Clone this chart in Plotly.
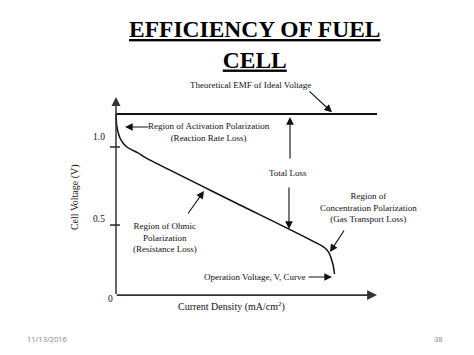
import plotly.graph_objects as go

# ---- data (arbitrary current-density units 0..100, cell voltage in V) ----
current_density = [0, 0.27, 0.88, 1.53, 2.68, 4.21, 6.13, 8.43, 11.11, 45.0,
                   79.31, 80.84, 81.99, 82.76, 83.33, 83.72]
cell_voltage = [1.212, 1.141, 1.090, 1.058, 1.026, 1.000, 0.981, 0.962, 0.933, 0.649,
                0.362, 0.340, 0.308, 0.269, 0.231, 0.186]
emf_x = [0, 100]
emf_v = [1.212, 1.212]
tick_values = [1.0, 0.5]
tick_labels = ["1.0", "0.5", "0"]
axis_origin = (0, 0.051)
x_axis_end = 100
y_axis_end = 1.32

SERIF = "Liberation Serif, Times New Roman, serif"
BLACK = "#111111"

fig = go.Figure()

# operating voltage curve
fig.add_trace(go.Scatter(x=current_density, y=cell_voltage, mode="lines",
                         line=dict(color=BLACK, width=1.5, shape="spline", smoothing=0.6),
                         hoverinfo="skip", showlegend=False))
# theoretical EMF line
fig.add_trace(go.Scatter(x=emf_x, y=emf_v, mode="lines",
                         line=dict(color=BLACK, width=2),
                         hoverinfo="skip", showlegend=False))

# ticks on y axis
for tv in tick_values:
    fig.add_shape(type="line", x0=-2.3, x1=1.5, y0=tv, y1=tv,
                  line=dict(color="#222222", width=1.5))

annotations = []

def arrow(x_tip, y_tip, x_tail, y_tail, width=1.1, size=1.4, color=BLACK):
    annotations.append(dict(x=x_tip, y=y_tip, ax=x_tail, ay=y_tail,
                            xref="x", yref="y", axref="x", ayref="y",
                            text="", showarrow=True, arrowhead=2,
                            arrowsize=size, arrowwidth=width,
                            arrowcolor=color, standoff=0, startstandoff=0))

def label(x, y, text, size=9, **kw):
    d = dict(x=x, y=y, xref="x", yref="y", text=text, showarrow=False,
             xanchor="center", yanchor="middle",
             font=dict(family=SERIF, size=size, color=BLACK), align="center")
    d.update(kw)
    annotations.append(d)

# axes with arrowheads
arrow(x_axis_end, axis_origin[1], axis_origin[0] - 0.3, axis_origin[1], width=1.8, size=1.1, color="#333333")
arrow(axis_origin[0], y_axis_end, axis_origin[0], axis_origin[1] - 0.003, width=1.5, size=1.2, color="#333333")

# tick labels
label(-6.51, 1.064, tick_labels[0], size=9.5)
label(-6.51, 0.538, tick_labels[1], size=9.5)
label(-1.92, 0.026, tick_labels[2], size=9.5)

# axis titles
label(-15.7, 0.679, "Cell Voltage (V)", size=10, textangle=-90)
label(44.06, -0.019, "Current Density (mA/cm<sup>2</sup>)", size=10)

# Theoretical EMF
label(51.7, 1.397, "Theoretical EMF of Ideal Voltage")
arrow(82.76, 1.222, 73.56, 1.365)

# Activation polarization
label(35.6, 1.096, "Region of Activation Polarization<br>(Reaction Rate Loss)")
arrow(3.45, 1.128, 13.03, 1.128)

# Total loss
label(65.9, 0.833, "Total Loss")
arrow(66.67, 1.192, 66.67, 0.917)
arrow(66.28, 0.474, 66.28, 0.750)

# Concentration polarization
label(96.55, 0.615, "Region of<br>Concentration Polarization<br>(Gas Transport Loss)")
arrow(81.99, 0.327, 87.74, 0.474)

# Ohmic polarization
label(18.77, 0.417, "Region of Ohmic<br>Polarization<br>(Resistance Loss)")
arrow(33.72, 0.718, 27.2, 0.564)

# Operation voltage
label(53.26, 0.167, "Operation Voltage, V, Curve")
arrow(82.76, 0.167, 73.18, 0.167)

# Title
annotations.append(dict(x=0.538, y=0.876, xref="paper", yref="paper",
                        xanchor="center", yanchor="middle",
                        text="<b><u>EFFICIENCY OF FUEL</u></b><br><b><u>CELL</u></b>",
                        showarrow=False, align="center",
                        font=dict(family=SERIF, size=23.5, color="#000000")))
# footer
annotations.append(dict(x=0.0992, y=0.045, xref="paper", yref="paper", text="11/13/2016",
                        xanchor="center", yanchor="middle",
                        showarrow=False, font=dict(family="Noto Sans, sans-serif", size=7.5, color="#8a8a8a")))
annotations.append(dict(x=0.926, y=0.045, xref="paper", yref="paper", text="38",
                        xanchor="center", yanchor="middle",
                        showarrow=False, font=dict(family="Noto Sans, sans-serif", size=7.5, color="#8a8a8a")))

fig.update_layout(
    width=474, height=355,
    margin=dict(l=0, r=0, t=0, b=0),
    paper_bgcolor="white", plot_bgcolor="white",
    xaxis=dict(range=[-44.44, 137.16], visible=False, fixedrange=True),
    yaxis=dict(range=[-0.333, 1.942], visible=False, fixedrange=True),
    annotations=annotations,
    showlegend=False,
)

fig.write_html("out.html")
